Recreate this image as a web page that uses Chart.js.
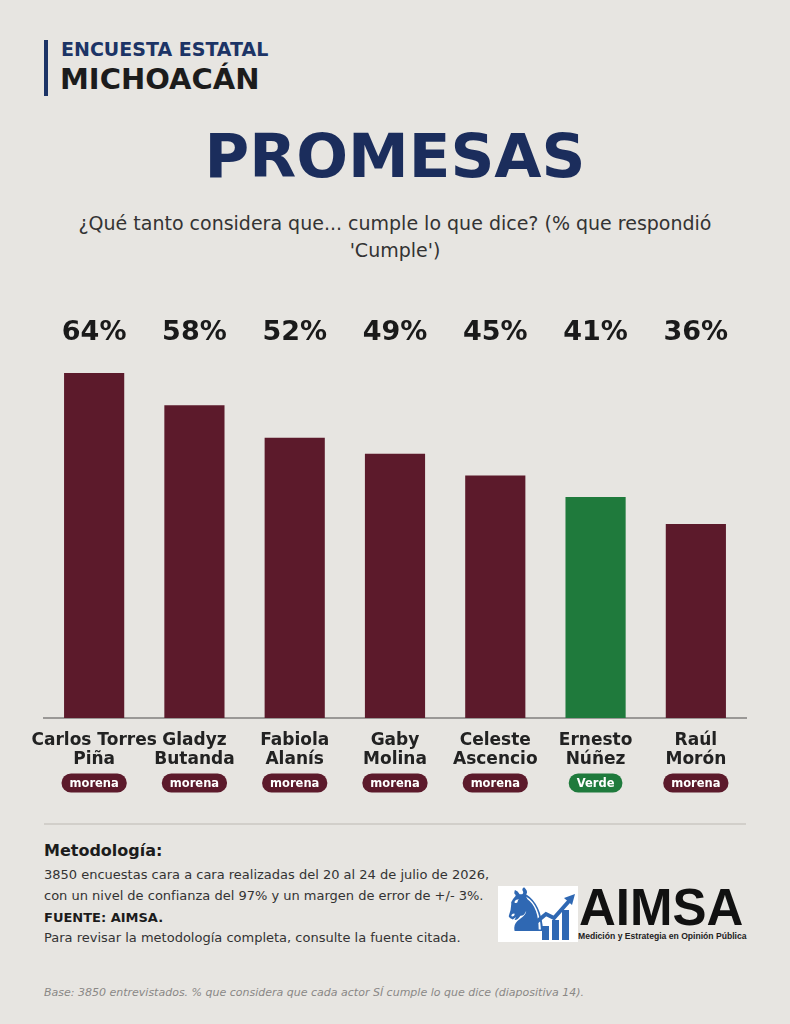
<!DOCTYPE html>
<html lang="es">
<head>
<meta charset="utf-8">
<title>Promesas - Encuesta Estatal Michoacán</title>
<script src="https://cdn.jsdelivr.net/npm/chart.js@4.4.0/dist/chart.umd.min.js"></script>
<style>
  html, body { margin: 0; padding: 0; }
  body {
    width: 790px; height: 1024px; position: relative; overflow: hidden;
    background: #e7e5e1; font-family: "DejaVu Sans", sans-serif; color: #222;
  }
  .abs { position: absolute; }
  #bar { left: 44px; top: 40px; width: 4px; height: 56px; background: #1c3466; }
  #kicker { left: 61px; top: 37px; font-size: 19px; font-weight: bold; color: #1c3466; line-height: 24px; }
  #state { left: 60px; top: 61px; font-size: 29px; font-weight: bold; color: #1c1c1c; line-height: 36px; }
  #title { left: 0; width: 790px; top: 118px; text-align: center; font-size: 61px; font-weight: bold; color: #1b2d5c; line-height: 76px; }
  #subtitle { left: 0; width: 790px; top: 210px; text-align: center; font-size: 19px; color: #333; line-height: 27px; }
  #chartBox { left: 0; top: 290px; width: 790px; height: 520px; }
  #sep { left: 44px; top: 823px; width: 702px; height: 2px; background: #d2cfca; }
  #metTitle { left: 44px; top: 840px; font-size: 16px; font-weight: bold; color: #1c1c1c; line-height: 22px; }
  #metText { left: 44px; top: 864px; font-size: 13px; color: #333; line-height: 21px; }
  #fuente { left: 44px; top: 909px; font-size: 13px; font-weight: bold; color: #1c1c1c; line-height: 18px; }
  #revisar { left: 44px; top: 929px; font-size: 13px; color: #333; line-height: 18px; }
  #logoBox { left: 498px; top: 886px; width: 80px; height: 56px; background: #fff; overflow: hidden; }
  #knight { left: 1px; top: -10px; font-size: 60px; color: #2f68b3; line-height: 68px; }
  #logoText { left: 579px; top: 880px; font-family: "Liberation Sans", Arial, sans-serif; font-size: 51px; font-weight: bold; color: #111; line-height: 56px; }
  #logoSub { left: 578px; top: 930px; font-family: "Liberation Sans", Arial, sans-serif; font-size: 8.6px; font-weight: bold; color: #222; line-height: 12px; white-space: nowrap; }
  #base { left: 44px; top: 986px; font-size: 11px; font-style: italic; color: #8a8886; line-height: 14px; }
</style>
</head>
<body>
<div id="bar" class="abs"></div>
<div id="kicker" class="abs">ENCUESTA ESTATAL</div>
<div id="state" class="abs">MICHOACÁN</div>
<div id="title" class="abs">PROMESAS</div>
<div id="subtitle" class="abs">¿Qué tanto considera que... cumple lo que dice? (% que respondió<br>'Cumple')</div>

<div id="chartBox" class="abs"><canvas id="promesasChart"></canvas></div>

<div id="sep" class="abs"></div>
<div id="metTitle" class="abs">Metodología:</div>
<div id="metText" class="abs">3850 encuestas cara a cara realizadas del 20 al 24 de julio de 2026,<br>con un nivel de confianza del 97% y un margen de error de +/- 3%.</div>
<div id="fuente" class="abs">FUENTE: AIMSA.</div>
<div id="revisar" class="abs">Para revisar la metodología completa, consulte la fuente citada.</div>

<div id="logoBox" class="abs">
  <div id="knight" class="abs">♞</div>
  <svg class="abs" style="left:0;top:0" width="80" height="56" viewBox="0 0 80 56">
    <rect x="44" y="40" width="7" height="14" fill="#2f68b3"/>
    <rect x="54" y="34" width="7" height="20" fill="#2f68b3"/>
    <rect x="64" y="24" width="7" height="30" fill="#2f68b3"/>
    <polyline points="36,38 48,28 56,32 72,14" fill="none" stroke="#2f68b3" stroke-width="4"/>
    <polygon points="66,12 77,8 74,19" fill="#2f68b3"/>
  </svg>
</div>
<div id="logoText" class="abs">AIMSA</div>
<div id="logoSub" class="abs">Medición y Estrategia en Opinión Pública</div>

<div id="base" class="abs">Base: 3850 entrevistados. % que considera que cada actor SÍ cumple lo que dice (diapositiva 14).</div>

<script>
const candidatos = [
  ["Carlos Torres", "Piña"],
  ["Gladyz", "Butanda"],
  ["Fabiola", "Alanís"],
  ["Gaby", "Molina"],
  ["Celeste", "Ascencio"],
  ["Ernesto", "Núñez"],
  ["Raúl", "Morón"]
];
const cumple = [64, 58, 52, 49, 45, 41, 36];
const partidos = ["morena", "morena", "morena", "morena", "morena", "Verde", "morena"];

const colorPartido = { morena: "#5c1a2b", Verde: "#1f7a3c" };

// percent row above the bars and party pills under the names
const etiquetas = {
  id: "etiquetas",
  afterDatasetsDraw(chart) {
    const ctx = chart.ctx;
    const meta = chart.getDatasetMeta(0);
    const xScale = chart.scales.x;
    ctx.save();
    meta.data.forEach((bar, i) => {
      ctx.font = "bold 27px 'DejaVu Sans'";
      ctx.fillStyle = "#1a1a1a";
      ctx.textAlign = "center";
      ctx.textBaseline = "middle";
      ctx.fillText(cumple[i] + "%", bar.x, chart.chartArea.top - 40);

      ctx.font = "bold 11.5px 'DejaVu Sans'";
      const w = ctx.measureText(partidos[i]).width + 16;
      const h = 19;
      const cy = xScale.top + 65;
      ctx.fillStyle = colorPartido[partidos[i]];
      ctx.beginPath();
      ctx.roundRect(bar.x - w / 2, cy - h / 2, w, h, h / 2);
      ctx.fill();
      ctx.fillStyle = "#ffffff";
      ctx.fillText(partidos[i], bar.x, cy + 1);
    });
    ctx.restore();
  }
};

new Chart(document.getElementById("promesasChart"), {
  type: "bar",
  data: {
    labels: candidatos,
    datasets: [{
      data: cumple,
      backgroundColor: partidos.map(p => colorPartido[p]),
      borderWidth: 0,
      barPercentage: 0.6,
      categoryPercentage: 1
    }]
  },
  options: {
    responsive: true,
    maintainAspectRatio: false,
    animation: false,
    layout: { padding: { left: 44, right: 44, top: 83, bottom: 28 } },
    plugins: {
      legend: { display: false },
      tooltip: { enabled: false }
    },
    scales: {
      x: {
        grid: { display: false, drawTicks: false },
        border: { display: true, color: "#9a9896", width: 2 },
        ticks: {
          color: "#222",
          padding: 13,
          maxRotation: 0,
          autoSkip: false,
          font: { family: "DejaVu Sans", size: 17, weight: "bold", lineHeight: 1.12 }
        }
      },
      y: {
        display: false,
        min: 0,
        max: 64
      }
    }
  },
  plugins: [etiquetas]
});
</script>
</body>
</html>
